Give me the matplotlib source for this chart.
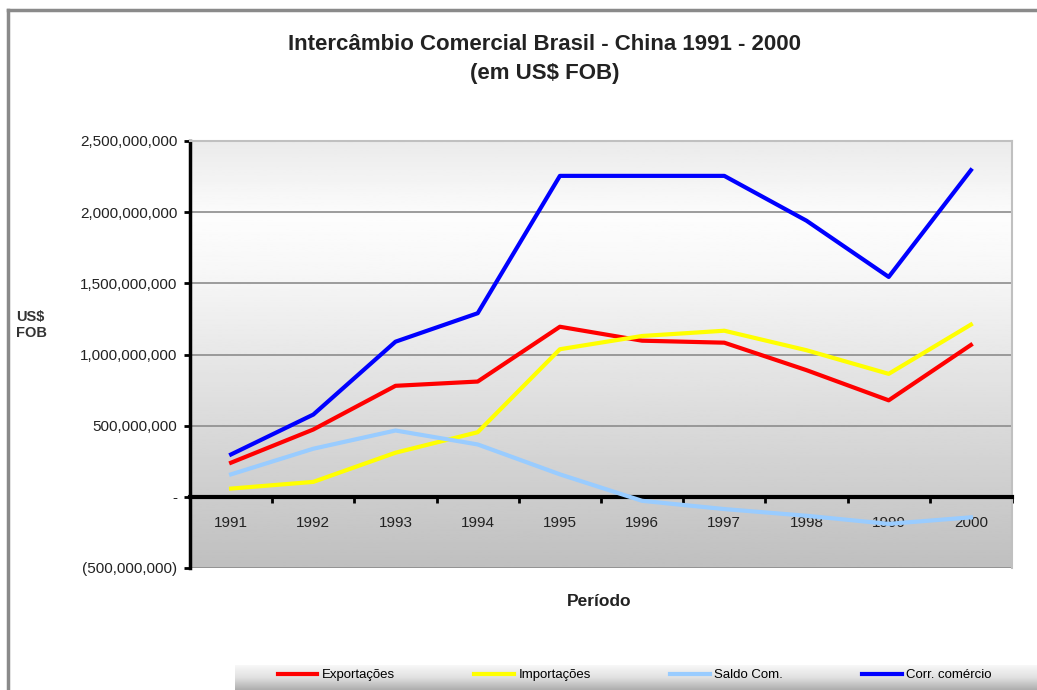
import numpy as np
import matplotlib
matplotlib.use('Agg')
import matplotlib.pyplot as plt
from matplotlib.ticker import FuncFormatter, FixedLocator
from matplotlib.lines import Line2D

# Valores (US$ FOB)
anos = ['1991', '1992', '1993', '1994', '1995', '1996', '1997', '1998', '1999', '2000']
exportacoes = [240e6, 473e6, 780e6, 810e6, 1195e6, 1097e6, 1083e6, 890e6, 678e6, 1067e6]
importacoes = [58e6, 105e6, 310e6, 454e6, 1037e6, 1130e6, 1167e6, 1030e6, 864e6, 1210e6]
saldo_com = [158e6, 338e6, 466e6, 368e6, 158e6, -28e6, -86e6, -133e6, -190e6, -144e6]
corr_comercio = [298e6, 578e6, 1090e6, 1290e6, 2255e6, 2255e6, 2255e6, 1940e6, 1545e6, 2295e6]

plt.rcParams['font.family'] = ['Liberation Sans', 'DejaVu Sans']

W, H = 1037, 690
fig = plt.figure(figsize=(W / 100, H / 100), dpi=100)

# moldura cinza da janela
fig.add_artist(Line2D([8 / W, 8 / W], [0, 1 - 10 / H], color='#8a8a8a', lw=2.5))
fig.add_artist(Line2D([8 / W, 1], [1 - 10 / H, 1 - 10 / H], color='#8a8a8a', lw=2.5))

ax = fig.add_axes([190 / W, 1 - 568 / H, 822 / W, 427 / H])

x = np.arange(1, len(anos) + 1)
ymin, ymax = -500e6, 2500e6

# fundo em degradê
t = np.linspace(0, 1, 256)
shade = np.interp(t, [0, 0.18, 0.3, 1], [0.92, 0.99, 0.97, 0.75])
ax.imshow(shade[:, None], extent=(0.5, len(anos) + 0.5, ymin, ymax), aspect='auto',
          cmap='gray', vmin=0, vmax=1, zorder=0)

ax.plot(x, exportacoes, color='#ff0000', lw=3, label='Exportações', zorder=3)
ax.plot(x, importacoes, color='#ffff00', lw=3, label='Importações', zorder=3)
ax.plot(x, saldo_com, color='#99ccff', lw=3, label='Saldo Com.', zorder=3)
ax.plot(x, corr_comercio, color='#0000ff', lw=3, label='Corr. comércio', zorder=3)

ax.set_xlim(0.5, len(anos) + 0.5)
ax.set_ylim(ymin, ymax)
ax.set_yticks(np.arange(ymin, ymax + 1, 500e6))


def fmt(v, pos):
    if abs(v) < 1:
        return '-'
    if v < 0:
        return f'({-v:,.0f})'
    return f'{v:,.0f}'


ax.yaxis.set_major_formatter(FuncFormatter(fmt))
ax.yaxis.grid(True, color='#8c8c8c', lw=1.2)
ax.set_axisbelow(True)

ax.xaxis.set_major_locator(FixedLocator(np.arange(0.5, len(anos) + 1, 1)))
ax.xaxis.set_major_formatter(FuncFormatter(lambda v, p: ''))
ax.xaxis.set_minor_locator(FixedLocator(x))
ax.set_xticklabels(anos, minor=True)
ax.tick_params(axis='x', which='major', length=4, width=2, direction='out')
ax.tick_params(axis='x', which='minor', length=0, pad=14, labelsize=11, labelcolor='#222222')
ax.tick_params(axis='y', length=4, width=2, direction='out', labelsize=11, labelcolor='#222222', pad=5)

ax.spines['bottom'].set_position(('data', 0))
ax.spines['bottom'].set_linewidth(3)
ax.spines['left'].set_linewidth(2.5)
ax.spines['top'].set_color('#c0c0c0')
ax.spines['right'].set_color('#c0c0c0')
ax.spines['top'].set_linewidth(1.5)
ax.spines['right'].set_linewidth(1.5)

fig.text(545 / W, 1 - 45 / H, 'Intercâmbio Comercial Brasil - China 1991 - 2000',
         ha='center', va='center', fontsize=16, weight='bold', color='#222222')
fig.text(545 / W, 1 - 73 / H, '(em US$ FOB)',
         ha='center', va='center', fontsize=16, weight='bold', color='#222222')
fig.text(16 / W, 1 - 325 / H, 'US$\nFOB', ha='left', va='center', fontsize=10.5,
         weight='bold', color='#333333', linespacing=1.1)
fig.text(599 / W, 1 - 601 / H, 'Período', ha='center', va='center', fontsize=12.5,
         weight='bold', color='#222222')

# faixa da legenda
lax = fig.add_axes([235 / W, 0, 1 - 235 / W, 25 / H])
lg = np.interp(np.linspace(0, 1, 64), [0, 0.5, 1], [0.97, 0.88, 0.68])
lax.imshow(lg[:, None], extent=(0, 1, 0, 1), aspect='auto', cmap='gray', vmin=0, vmax=1)
lax.set_axis_off()

handles, labels = ax.get_legend_handles_labels()
fig.legend(handles, labels, loc='center left', bbox_to_anchor=(266 / W, 1 - 675 / H),
           ncol=4, frameon=False, fontsize=9.5, handlelength=3.0, handletextpad=0.35,
           columnspacing=6.0)

fig.savefig('out.png', dpi=100)
plt.close('all')
